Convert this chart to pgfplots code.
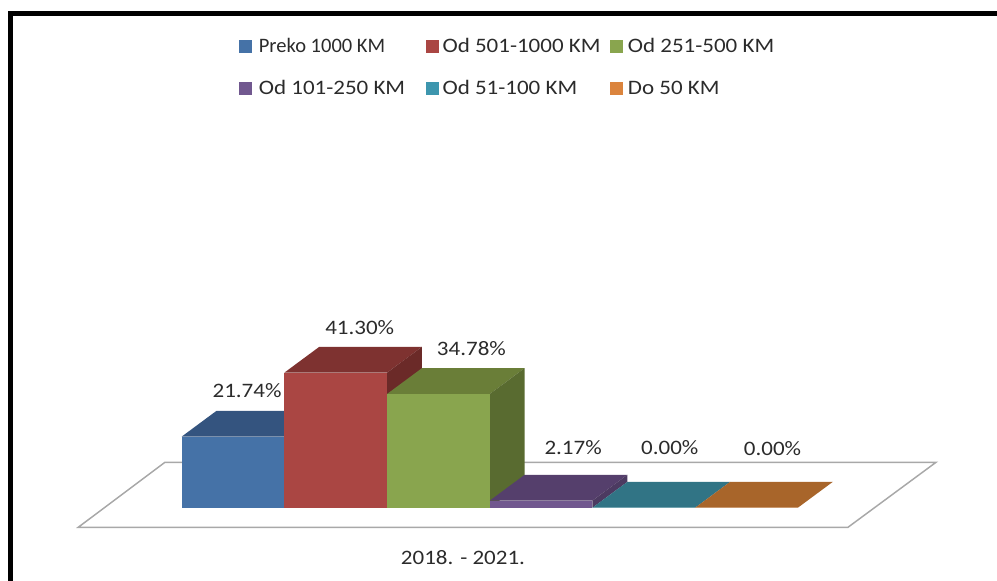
\documentclass[border=0pt]{standalone}
\usepackage{fontspec}
\setmainfont{Carlito}
\newfontfamily\wide[FakeStretch=1.12]{Carlito}
\usepackage{pgfplots}
\pgfplotsset{compat=1.18}
\definecolor{txt}{HTML}{2B2B2B}
\definecolor{floorline}{HTML}{A8A8A8}
\definecolor{blueF}{HTML}{4572A7}
\definecolor{blueT}{HTML}{34547F}
\definecolor{redF}{HTML}{AA4643}
\definecolor{redT}{HTML}{7E3230}
\definecolor{redS}{HTML}{6B2A28}
\definecolor{greenF}{HTML}{89A54E}
\definecolor{greenT}{HTML}{6A7E38}
\definecolor{greenS}{HTML}{596B30}
\definecolor{purpleF}{HTML}{71588F}
\definecolor{purpleT}{HTML}{553F6C}
\definecolor{purpleS}{HTML}{4C3A61}
\definecolor{tealF}{HTML}{3D96AE}
\definecolor{tealT}{HTML}{317485}
\definecolor{orangeF}{HTML}{DB843D}
\definecolor{orangeT}{HTML}{A8652A}
\pgfplotsset{
  bar3d/.style n args={3}{
    ybar, bar width=1, bar shift=0pt, fill=#1, draw=none,
    legend image code/.code={\fill[#1] (0pt,-4.9pt) rectangle (9.8pt,4.9pt);},
    nodes near coords={\pgfmathprintnumber[fixed,fixed zerofill,precision=2,assume math mode=true]{\pgfplotspointmeta}\%},
    every node near coord/.append style={anchor=center, xshift=#2, yshift=#3,
      text=txt, font=\wide\fontsize{15.4}{18}\selectfont, inner sep=0pt},
  },
  face/.style={fill=#1, draw=none, forget plot, no markers},
}
\begin{document}
\begin{tikzpicture}
\begin{axis}[
  scale only axis,
  width=747.75pt, height=435.75pt,
  xmin=-1.769, xmax=7.939,
  ymin=-22.416, ymax=155.26,
  hide axis,
  clip=true,
  legend columns=3,
  legend cell align=left,
  legend style={
    at={(0.5095,0.8838)}, anchor=center, draw=none, fill=none,
    font=\fontsize{15.4}{18}\selectfont, text=txt,
    row sep=15.5pt,
    /tikz/column 1/.style={column sep=3pt},
    /tikz/column 2/.style={column sep=13.5pt},
    /tikz/column 3/.style={column sep=0.75pt},
    /tikz/column 4/.style={column sep=5.25pt},
    /tikz/column 5/.style={column sep=1.5pt},
  },
]
% floor
\addplot[draw=floorline, line width=1.1pt, fill=white, forget plot, no markers]
  coordinates {(-1.007,-5.99) (6.488,-5.99) (7.345,13.88) (-0.163,13.88)} --cycle;
% blue
\addplot[face=blueT] coordinates {(0,21.74) (1,21.74) (1.34,29.64) (0.34,29.64)} --cycle;
\addplot[bar3d={blueF}{10.5pt}{34.5pt}] coordinates {(0.5,21.74)};
\addlegendentry{Preko 1000 KM}
% red
\addplot[face=redT] coordinates {(1,41.30) (2,41.30) (2.34,49.20) (1.34,49.20)} --cycle;
\addplot[face=redS] coordinates {(2,0) (2.34,7.9) (2.34,49.20) (2,41.30)} --cycle;
\addplot[bar3d={redF}{18pt}{34pt}] coordinates {(1.5,41.30)};
\addlegendentry{\wide Od 501-1000 KM}
% green
\addplot[face=greenT] coordinates {(2,34.78) (3,34.78) (3.34,42.68) (2.34,42.68)} --cycle;
\addplot[face=greenS] coordinates {(3,0) (3.34,7.9) (3.34,42.68) (3,34.78)} --cycle;
\addplot[bar3d={greenF}{24.75pt}{34pt}] coordinates {(2.5,34.78)};
\addlegendentry{\wide Od 251-500 KM}
% purple
\addplot[face=purpleT] coordinates {(3,2.17) (4,2.17) (4.34,10.07) (3.34,10.07)} --cycle;
\addplot[face=purpleS] coordinates {(4,0) (4.34,7.9) (4.34,10.07) (4,2.17)} --cycle;
\addplot[bar3d={purpleF}{24pt}{39.75pt}] coordinates {(3.5,2.17)};
\addlegendentry{\wide Od 101-250 KM}
% teal
\addplot[face=tealT] coordinates {(4,0) (5,0) (5.34,7.9) (4.34,7.9)} --cycle;
\addplot[bar3d={tealF}{19.5pt}{45pt}] coordinates {(4.5,0)};
\addlegendentry{\wide Od 51-100 KM}
% orange
\addplot[face=orangeT] coordinates {(5,0) (6,0) (6.34,7.9) (5.34,7.9)} --cycle;
\addplot[bar3d={orangeF}{19.5pt}{44.25pt}] coordinates {(5.5,0)};
\addlegendentry{\wide Do 50 KM}
% category label and outer frame
\node[text=txt, font=\wide\fontsize{15.4}{18}\selectfont] at (axis cs:2.739,-15.4) {2018. - 2021.};
\draw[black, line width=3.75pt] (axis cs:-1.665,-30) -- (axis cs:-1.665,151.1) -- (axis cs:8.1,151.1);
\end{axis}
\path[use as bounding box] (current axis.south west) rectangle (current axis.north east);
\end{tikzpicture}
\end{document}
